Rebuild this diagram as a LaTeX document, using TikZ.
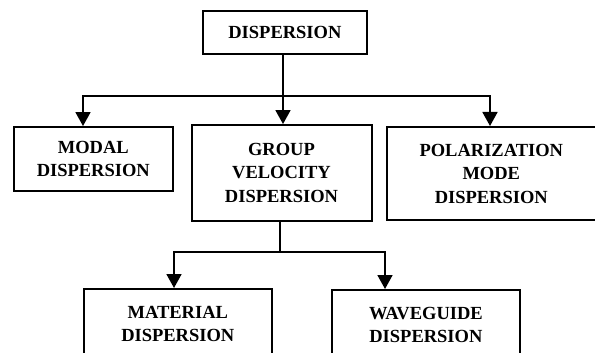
\documentclass[tikz,border=0pt]{standalone}
\usepackage{fontspec}
\setmainfont{Liberation Serif}
\usetikzlibrary{arrows.meta,positioning}

\begin{document}
\begin{tikzpicture}[
  x=1pt, y=-1pt,
  >={Triangle[length=14pt,width=15pt]},
  line width=1.8pt,
  kind/.style={rectangle, draw=black, line width=2pt, inner sep=0pt, align=center, font=\fontsize{18.5}{23.5}\selectfont\bfseries},
  flow/.style={->, draw=black, line width=1.8pt}
]
  \path[use as bounding box, clip] (0,0) rectangle (595,353);
  \node[kind, minimum width=164pt, minimum height=43pt] (disp) at (284.9,32.5) {DISPERSION};
  \node[kind, minimum width=158.7pt, minimum height=63.7pt] (modal) at (93.3,158.9) {MODAL\\DISPERSION};
  \node[kind, minimum width=180pt, minimum height=95.7pt] (gvd) at (281.5,172.9) {GROUP\\VELOCITY\\DISPERSION};
  \node[kind, minimum width=208.6pt, minimum height=93pt] (pmd) at (491.3,173.5) {POLARIZATION\\MODE\\DISPERSION};
  \node[kind, minimum width=188.5pt, minimum height=70pt] (mat) at (177.8,324) {MATERIAL\\DISPERSION};
  \node[kind, minimum width=188.3pt, minimum height=70pt] (wg) at (425.9,325) {WAVEGUIDE\\DISPERSION};
  % first level
  \coordinate (split1) at (283,95.7);
  \draw[flow] (split1 |- disp.south) -- (split1 |- gvd.north);
  \draw[flow] (split1) -| ([xshift=-10.3pt]modal.north);
  \draw[flow] (split1) -| ([xshift=-1.3pt]pmd.north);
  % second level
  \coordinate (split2) at (280,252);
  \draw (split2 |- gvd.south) -- (split2);
  \draw[flow] (split2) -| ([xshift=-3.8pt]mat.north);
  \draw[flow] (split2) -| ([xshift=-40.9pt]wg.north);
\end{tikzpicture}
\end{document}
